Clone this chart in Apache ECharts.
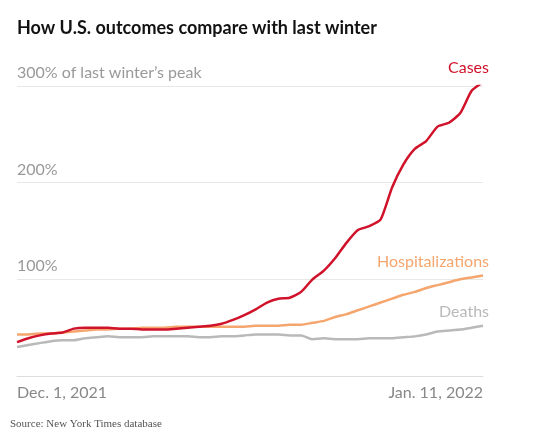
<!DOCTYPE html>
<html>
<head>
<meta charset="utf-8">
<script src="https://cdn.jsdelivr.net/npm/echarts@6/dist/echarts.min.js"></script>
<style>
  html, body { margin: 0; padding: 0; background: #fff; }
  #chart { width: 547px; height: 447px; }
</style>
</head>
<body>
<div id="chart"></div>
<script>
// daily values, Dec. 1, 2021 .. Jan. 11, 2022 (% of last winter's peak)
var days = [];
for (var i = 0; i < 42; i++) {
  var d = new Date(2021, 11, 1 + i);
  days.push(d.getFullYear() + '-' + (d.getMonth() + 1) + '-' + d.getDate());
}
var tickLabels = ['Dec. 1, 2021', 'Jan. 11, 2022'];
var cases = [35,39,42,44,45,49,50,50,50,49,49,48,48,48,49,50,51,52,54,58,63,69,76,80,81,87,100,109,122,138,151,155,162,195,219,235,243,258,262,272,295,304];
var hosp = [43,43,44,44,45,46,47,48,48,49,49,50,50,50,51,51,51,51,51,51,51,52,52,52,53,53,55,57,61,64,68,72,76,80,84,87,91,94,97,100,102,104];
var deaths = [30,32,34,36,37,37,39,40,41,40,40,40,41,41,41,41,40,40,41,41,42,43,43,43,42,42,38,39,38,38,38,39,39,39,40,41,43,46,47,48,50,52];

var myChart = echarts.init(document.getElementById('chart'));

function line(name, data, color, width) {
  return {
    name: name, type: 'line', data: data, symbol: 'none', smooth: 0.2,
    lineStyle: { color: color, width: width },
    endLabel: {
      show: true, formatter: name, color: color, fontSize: 16,
      fontFamily: 'Lato', align: 'right', verticalAlign: 'bottom',
      offset: [-2, -6]
    },
    labelLayout: { hideOverlap: false }
  };
}

var option = {
  animation: false,
  title: {
    text: 'How U.S. outcomes compare with last winter',
    left: 17, top: 19, padding: 0,
    textStyle: { fontSize: 18, fontWeight: 'bold', color: '#121212', fontFamily: 'Lato' }
  },
  grid: { left: 17, right: 64, top: 86, bottom: 71 },
  xAxis: {
    type: 'category', data: days, boundaryGap: false,
    axisLine: { lineStyle: { color: '#ddd' } },
    axisTick: { show: false },
    axisLabel: {
      interval: function (i) { return i === 0 || i === days.length - 1; },
      formatter: function (v, i) { return i === 0 ? tickLabels[0] : tickLabels[1]; },
      alignMinLabel: 'left', alignMaxLabel: 'right',
      color: '#888', fontSize: 16, fontFamily: 'Lato', margin: 9
    }
  },
  yAxis: {
    type: 'value', min: 0, max: 300, interval: 100,
    splitLine: { lineStyle: { color: '#e8e8e8' } },
    axisLine: { show: false }, axisTick: { show: false },
    axisLabel: {
      inside: true, verticalAlign: 'bottom', margin: 0,
      color: '#999', fontSize: 16, fontFamily: 'Lato',
      padding: [0, 0, 5, 0],
      formatter: function (v) {
        if (v === 0) return '';
        if (v === 300) return '300% of last winter\u2019s peak';
        return v + '%';
      }
    }
  },
  series: [
    line('Deaths', deaths, '#b9b9b9', 2.5),
    line('Hospitalizations', hosp, '#f5a66e', 2.5),
    line('Cases', cases, '#d0132a', 2.5)
  ],
  graphic: [{
    type: 'text', left: 10, top: 419,
    style: { text: 'Source: New York Times database', fill: '#555', fontSize: 11, fontFamily: 'Liberation Serif' }
  }]
};
myChart.setOption(option);
</script>
</body>
</html>
